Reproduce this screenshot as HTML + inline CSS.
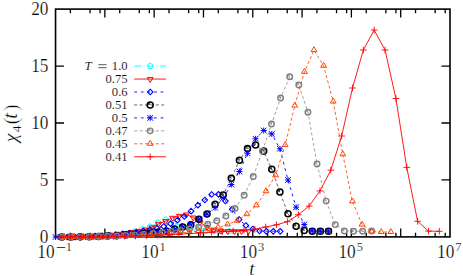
<!DOCTYPE html>
<html lang="en">
<head>
<meta charset="utf-8">
<title>chi4(t)</title>
<style>
html,body{margin:0;padding:0;background:#ffffff;}
body{width:463px;height:276px;overflow:hidden;font-family:"Liberation Serif",serif;}
svg{display:block;}
</style>
</head>
<body>
<svg width="463" height="276" viewBox="0 0 463 276">
<rect x="0" y="0" width="463" height="276" fill="#ffffff"/>
<g stroke="#000" stroke-width="1.3" fill="none" stroke-linecap="butt">
<rect x="55.55" y="9.1" width="394.45" height="227.8" stroke-width="1.6"/>
<path d="M70.39 236.9V232.7 M70.39 9.1V13.3 M90.01 236.9V232.7 M90.01 9.1V13.3 M100.08 236.9V232.7 M100.08 9.1V13.3 M104.86 236.9V228.4 M104.86 9.1V17.6 M119.7 236.9V232.7 M119.7 9.1V13.3 M139.32 236.9V232.7 M139.32 9.1V13.3 M149.38 236.9V232.7 M149.38 9.1V13.3 M154.16 236.9V228.4 M154.16 9.1V17.6 M169.01 236.9V232.7 M169.01 9.1V13.3 M188.63 236.9V232.7 M188.63 9.1V13.3 M198.69 236.9V232.7 M198.69 9.1V13.3 M203.47 236.9V228.4 M203.47 9.1V17.6 M218.31 236.9V232.7 M218.31 9.1V13.3 M237.93 236.9V232.7 M237.93 9.1V13.3 M248 236.9V232.7 M248 9.1V13.3 M252.77 236.9V228.4 M252.77 9.1V17.6 M267.62 236.9V232.7 M267.62 9.1V13.3 M287.24 236.9V232.7 M287.24 9.1V13.3 M297.3 236.9V232.7 M297.3 9.1V13.3 M302.08 236.9V228.4 M302.08 9.1V17.6 M316.92 236.9V232.7 M316.92 9.1V13.3 M336.54 236.9V232.7 M336.54 9.1V13.3 M346.61 236.9V232.7 M346.61 9.1V13.3 M351.39 236.9V228.4 M351.39 9.1V17.6 M366.23 236.9V232.7 M366.23 9.1V13.3 M385.85 236.9V232.7 M385.85 9.1V13.3 M395.92 236.9V232.7 M395.92 9.1V13.3 M400.69 236.9V228.4 M400.69 9.1V17.6 M415.54 236.9V232.7 M415.54 9.1V13.3 M435.16 236.9V232.7 M435.16 9.1V13.3 M445.22 236.9V232.7 M445.22 9.1V13.3 M55.55 179.95H64.05 M450 179.95H441.5 M55.55 123H64.05 M450 123H441.5 M55.55 66.05H64.05 M450 66.05H441.5"/>
</g>
<g font-family="'Liberation Serif', serif" fill="#000" stroke="#fff" stroke-width="0.22">
<text transform="translate(48.5 243) scale(0.96 1)" font-size="18" text-anchor="end">0</text>
<text transform="translate(48.5 186.05) scale(0.96 1)" font-size="18" text-anchor="end">5</text>
<text transform="translate(48.5 129.1) scale(0.96 1)" font-size="18" text-anchor="end">10</text>
<text transform="translate(48.5 72.15) scale(0.96 1)" font-size="18" text-anchor="end">15</text>
<text transform="translate(48.5 15.2) scale(0.96 1)" font-size="18" text-anchor="end">20</text>
<text transform="translate(37.3 258.3) scale(0.96 1)" font-size="18" text-anchor="start">10</text>
<path d="M56.8 247.5H65.2" stroke="#000" stroke-width="0.75" fill="none"/>
<text transform="translate(65.8 251.4) scale(0.96 1)" font-size="13" text-anchor="start">1</text>
<text transform="translate(141.26 258.3) scale(0.96 1)" font-size="18" text-anchor="start">10</text>
<text transform="translate(159.46 251.4) scale(0.96 1)" font-size="13" text-anchor="start">1</text>
<text transform="translate(239.87 258.3) scale(0.96 1)" font-size="18" text-anchor="start">10</text>
<text transform="translate(258.07 251.4) scale(0.96 1)" font-size="13" text-anchor="start">3</text>
<text transform="translate(338.49 258.3) scale(0.96 1)" font-size="18" text-anchor="start">10</text>
<text transform="translate(356.69 251.4) scale(0.96 1)" font-size="13" text-anchor="start">5</text>
<text transform="translate(437.1 258.3) scale(0.96 1)" font-size="18" text-anchor="start">10</text>
<text transform="translate(455.3 251.4) scale(0.96 1)" font-size="13" text-anchor="start">7</text>
<text x="249.2" y="275.4" font-size="19" font-style="italic">t</text>
<g transform="translate(17.2 142.2) rotate(-90)"><text x="0" y="0" font-size="19.5" font-style="italic">χ</text><text x="10.0" y="3.6" font-size="13.5">4</text><text x="17.8" y="1.15" font-size="22" stroke-width="0.55">(</text><text x="23.4" y="0" font-size="20.5" font-style="italic">t</text><text x="30.8" y="1.15" font-size="22" stroke-width="0.55">)</text></g>
<text x="127.6" y="70.4" font-size="12.6" text-anchor="end" stroke-width="0.14">1.0</text>
<text x="127.6" y="83.35" font-size="12.6" text-anchor="end" stroke-width="0.14">0.75</text>
<text x="127.6" y="96.3" font-size="12.6" text-anchor="end" stroke-width="0.14">0.6</text>
<text x="127.6" y="109.25" font-size="12.6" text-anchor="end" stroke-width="0.14">0.51</text>
<text x="127.6" y="122.2" font-size="12.6" text-anchor="end" stroke-width="0.14">0.5</text>
<text x="127.6" y="135.15" font-size="12.6" text-anchor="end" stroke-width="0.14">0.47</text>
<text x="127.6" y="148.1" font-size="12.6" text-anchor="end" stroke-width="0.14">0.45</text>
<text x="127.6" y="161.05" font-size="12.6" text-anchor="end" stroke-width="0.14">0.41</text>
<text x="84.6" y="70.4" font-size="13" font-style="italic" stroke-width="0.14">T</text>
<path d="M98.4 64.7H106.6 M98.4 67.7H106.6" stroke="#000" stroke-width="0.65" fill="none"/>
</g>
<g>
<path d="M134.2 66.1H166" fill="none" stroke="#00ffff" stroke-width="0.9" stroke-dasharray="7 2.4 1 2.4"/>
<polygon points="150.2,63.1 153.05,65.17 151.96,68.53 148.44,68.53 147.35,65.17" fill="none" stroke="#00ffff" stroke-width="1.0"/>
<polyline points="63.2,236.97 71.1,236.88 79,236.72 86.9,236.49 94.8,236.19 102.7,235.83 110.6,235.4 118.5,234.9 126.4,234 134.3,231.8 142.2,229.2 150.1,226.6 158,222.6 165.9,219.6 173.8,222.8 181.7,226 189.6,228.8 197.5,230.4 205.4,231.1 213.3,231.3 221.2,231.3 229.1,231.3" fill="none" stroke="#00ffff" stroke-width="0.9" stroke-linejoin="round" stroke-dasharray="7 2.4 1 2.4"/>
<polygon points="63.2,233.97 66.05,236.05 64.96,239.4 61.44,239.4 60.35,236.05" fill="none" stroke="#00ffff" stroke-width="1.0"/>
<polygon points="71.1,233.88 73.95,235.95 72.86,239.3 69.34,239.3 68.25,235.95" fill="none" stroke="#00ffff" stroke-width="1.0"/>
<polygon points="79,233.72 81.85,235.79 80.76,239.14 77.24,239.14 76.15,235.79" fill="none" stroke="#00ffff" stroke-width="1.0"/>
<polygon points="86.9,233.49 89.75,235.56 88.66,238.91 85.14,238.91 84.05,235.56" fill="none" stroke="#00ffff" stroke-width="1.0"/>
<polygon points="94.8,233.19 97.65,235.26 96.56,238.62 93.04,238.62 91.95,235.26" fill="none" stroke="#00ffff" stroke-width="1.0"/>
<polygon points="102.7,232.83 105.55,234.9 104.46,238.25 100.94,238.25 99.85,234.9" fill="none" stroke="#00ffff" stroke-width="1.0"/>
<polygon points="110.6,232.4 113.45,234.47 112.36,237.82 108.84,237.82 107.75,234.47" fill="none" stroke="#00ffff" stroke-width="1.0"/>
<polygon points="118.5,231.9 121.35,233.97 120.26,237.33 116.74,237.33 115.65,233.97" fill="none" stroke="#00ffff" stroke-width="1.0"/>
<polygon points="126.4,231 129.25,233.07 128.16,236.43 124.64,236.43 123.55,233.07" fill="none" stroke="#00ffff" stroke-width="1.0"/>
<polygon points="134.3,228.8 137.15,230.87 136.06,234.23 132.54,234.23 131.45,230.87" fill="none" stroke="#00ffff" stroke-width="1.0"/>
<polygon points="142.2,226.2 145.05,228.27 143.96,231.63 140.44,231.63 139.35,228.27" fill="none" stroke="#00ffff" stroke-width="1.0"/>
<polygon points="150.1,223.6 152.95,225.67 151.86,229.03 148.34,229.03 147.25,225.67" fill="none" stroke="#00ffff" stroke-width="1.0"/>
<polygon points="158,219.6 160.85,221.67 159.76,225.03 156.24,225.03 155.15,221.67" fill="none" stroke="#00ffff" stroke-width="1.0"/>
<polygon points="165.9,216.6 168.75,218.67 167.66,222.03 164.14,222.03 163.05,218.67" fill="none" stroke="#00ffff" stroke-width="1.0"/>
<polygon points="173.8,219.8 176.65,221.87 175.56,225.23 172.04,225.23 170.95,221.87" fill="none" stroke="#00ffff" stroke-width="1.0"/>
<polygon points="181.7,223 184.55,225.07 183.46,228.43 179.94,228.43 178.85,225.07" fill="none" stroke="#00ffff" stroke-width="1.0"/>
<polygon points="189.6,225.8 192.45,227.87 191.36,231.23 187.84,231.23 186.75,227.87" fill="none" stroke="#00ffff" stroke-width="1.0"/>
<polygon points="197.5,227.4 200.35,229.47 199.26,232.83 195.74,232.83 194.65,229.47" fill="none" stroke="#00ffff" stroke-width="1.0"/>
<polygon points="205.4,228.1 208.25,230.17 207.16,233.53 203.64,233.53 202.55,230.17" fill="none" stroke="#00ffff" stroke-width="1.0"/>
<polygon points="213.3,228.3 216.15,230.37 215.06,233.73 211.54,233.73 210.45,230.37" fill="none" stroke="#00ffff" stroke-width="1.0"/>
<polygon points="221.2,228.3 224.05,230.37 222.96,233.73 219.44,233.73 218.35,230.37" fill="none" stroke="#00ffff" stroke-width="1.0"/>
<polygon points="229.1,228.3 231.95,230.37 230.86,233.73 227.34,233.73 226.25,230.37" fill="none" stroke="#00ffff" stroke-width="1.0"/>
</g>
<g>
<path d="M134.2 79.05H166" fill="none" stroke="#ff0000" stroke-width="0.9"/>
<polygon points="147.3,77.55 153.1,77.55 150.2,82.45" fill="none" stroke="#ff0000" stroke-width="1.0"/>
<polyline points="62.1,236.98 69,236.91 75.9,236.76 82.8,236.53 89.7,236.21 96.6,235.78 103.5,235.25 110.4,234.61 117.3,233.85 124.2,232.98 131.1,231.98 138,230.85 144.9,229.6 151.8,227.3 158.7,223.8 165.6,221.2 172.5,217.8 179.4,215.8 186.3,214.5 193.2,217.5 200.1,222.5 207,227 213.9,229.7 220.8,230.8 227.7,231.1 234.6,231.2 241.5,231.2 248.4,231.2" fill="none" stroke="#ff0000" stroke-width="0.9" stroke-linejoin="round"/>
<polygon points="59.2,235.48 65,235.48 62.1,240.38" fill="none" stroke="#ff0000" stroke-width="1.0"/>
<polygon points="66.1,235.41 71.9,235.41 69,240.31" fill="none" stroke="#ff0000" stroke-width="1.0"/>
<polygon points="73,235.26 78.8,235.26 75.9,240.16" fill="none" stroke="#ff0000" stroke-width="1.0"/>
<polygon points="79.9,235.03 85.7,235.03 82.8,239.93" fill="none" stroke="#ff0000" stroke-width="1.0"/>
<polygon points="86.8,234.71 92.6,234.71 89.7,239.61" fill="none" stroke="#ff0000" stroke-width="1.0"/>
<polygon points="93.7,234.28 99.5,234.28 96.6,239.18" fill="none" stroke="#ff0000" stroke-width="1.0"/>
<polygon points="100.6,233.75 106.4,233.75 103.5,238.65" fill="none" stroke="#ff0000" stroke-width="1.0"/>
<polygon points="107.5,233.11 113.3,233.11 110.4,238.01" fill="none" stroke="#ff0000" stroke-width="1.0"/>
<polygon points="114.4,232.35 120.2,232.35 117.3,237.25" fill="none" stroke="#ff0000" stroke-width="1.0"/>
<polygon points="121.3,231.48 127.1,231.48 124.2,236.38" fill="none" stroke="#ff0000" stroke-width="1.0"/>
<polygon points="128.2,230.48 134,230.48 131.1,235.38" fill="none" stroke="#ff0000" stroke-width="1.0"/>
<polygon points="135.1,229.35 140.9,229.35 138,234.25" fill="none" stroke="#ff0000" stroke-width="1.0"/>
<polygon points="142,228.1 147.8,228.1 144.9,233" fill="none" stroke="#ff0000" stroke-width="1.0"/>
<polygon points="148.9,225.8 154.7,225.8 151.8,230.7" fill="none" stroke="#ff0000" stroke-width="1.0"/>
<polygon points="155.8,222.3 161.6,222.3 158.7,227.2" fill="none" stroke="#ff0000" stroke-width="1.0"/>
<polygon points="162.7,219.7 168.5,219.7 165.6,224.6" fill="none" stroke="#ff0000" stroke-width="1.0"/>
<polygon points="169.6,216.3 175.4,216.3 172.5,221.2" fill="none" stroke="#ff0000" stroke-width="1.0"/>
<polygon points="176.5,214.3 182.3,214.3 179.4,219.2" fill="none" stroke="#ff0000" stroke-width="1.0"/>
<polygon points="183.4,213 189.2,213 186.3,217.9" fill="none" stroke="#ff0000" stroke-width="1.0"/>
<polygon points="190.3,216 196.1,216 193.2,220.9" fill="none" stroke="#ff0000" stroke-width="1.0"/>
<polygon points="197.2,221 203,221 200.1,225.9" fill="none" stroke="#ff0000" stroke-width="1.0"/>
<polygon points="204.1,225.5 209.9,225.5 207,230.4" fill="none" stroke="#ff0000" stroke-width="1.0"/>
<polygon points="211,228.2 216.8,228.2 213.9,233.1" fill="none" stroke="#ff0000" stroke-width="1.0"/>
<polygon points="217.9,229.3 223.7,229.3 220.8,234.2" fill="none" stroke="#ff0000" stroke-width="1.0"/>
<polygon points="224.8,229.6 230.6,229.6 227.7,234.5" fill="none" stroke="#ff0000" stroke-width="1.0"/>
<polygon points="231.7,229.7 237.5,229.7 234.6,234.6" fill="none" stroke="#ff0000" stroke-width="1.0"/>
<polygon points="238.6,229.7 244.4,229.7 241.5,234.6" fill="none" stroke="#ff0000" stroke-width="1.0"/>
<polygon points="245.5,229.7 251.3,229.7 248.4,234.6" fill="none" stroke="#ff0000" stroke-width="1.0"/>
</g>
<g>
<path d="M134.2 92H166" fill="none" stroke="#0000ff" stroke-width="0.9" stroke-dasharray="2.8 3.8"/>
<polygon points="150.2,89.2 153,92 150.2,94.8 147.4,92" fill="none" stroke="#0000ff" stroke-width="1.1"/>
<polyline points="61,237 67.85,236.96 74.7,236.87 81.55,236.72 88.4,236.5 95.25,236.19 102.1,235.79 108.95,235.28 115.8,234.67 122.65,233.95 129.5,233.11 136.35,232.13 143.2,231.03 150.05,229.79 156.9,228.4 163.7,226.5 170.6,223.7 177.4,220.2 184.3,216.5 191.1,211.2 197.9,205.2 204.8,200 211.6,194.5 218.5,194.3 225.4,201 232.2,209.3 239.1,219.5 245.9,225.5 252.8,229 259.6,231 266.4,231.3 273.3,231.3 280.2,231.3" fill="none" stroke="#0000ff" stroke-width="0.9" stroke-linejoin="round" stroke-dasharray="2.8 3.8"/>
<polygon points="61,234.2 63.8,237 61,239.8 58.2,237" fill="none" stroke="#0000ff" stroke-width="1.1"/>
<polygon points="67.85,234.16 70.65,236.96 67.85,239.76 65.05,236.96" fill="none" stroke="#0000ff" stroke-width="1.1"/>
<polygon points="74.7,234.07 77.5,236.87 74.7,239.67 71.9,236.87" fill="none" stroke="#0000ff" stroke-width="1.1"/>
<polygon points="81.55,233.92 84.35,236.72 81.55,239.52 78.75,236.72" fill="none" stroke="#0000ff" stroke-width="1.1"/>
<polygon points="88.4,233.7 91.2,236.5 88.4,239.3 85.6,236.5" fill="none" stroke="#0000ff" stroke-width="1.1"/>
<polygon points="95.25,233.39 98.05,236.19 95.25,238.99 92.45,236.19" fill="none" stroke="#0000ff" stroke-width="1.1"/>
<polygon points="102.1,232.99 104.9,235.79 102.1,238.59 99.3,235.79" fill="none" stroke="#0000ff" stroke-width="1.1"/>
<polygon points="108.95,232.48 111.75,235.28 108.95,238.08 106.15,235.28" fill="none" stroke="#0000ff" stroke-width="1.1"/>
<polygon points="115.8,231.87 118.6,234.67 115.8,237.47 113,234.67" fill="none" stroke="#0000ff" stroke-width="1.1"/>
<polygon points="122.65,231.15 125.45,233.95 122.65,236.75 119.85,233.95" fill="none" stroke="#0000ff" stroke-width="1.1"/>
<polygon points="129.5,230.31 132.3,233.11 129.5,235.91 126.7,233.11" fill="none" stroke="#0000ff" stroke-width="1.1"/>
<polygon points="136.35,229.33 139.15,232.13 136.35,234.93 133.55,232.13" fill="none" stroke="#0000ff" stroke-width="1.1"/>
<polygon points="143.2,228.23 146,231.03 143.2,233.83 140.4,231.03" fill="none" stroke="#0000ff" stroke-width="1.1"/>
<polygon points="150.05,226.99 152.85,229.79 150.05,232.59 147.25,229.79" fill="none" stroke="#0000ff" stroke-width="1.1"/>
<polygon points="156.9,225.6 159.7,228.4 156.9,231.2 154.1,228.4" fill="none" stroke="#0000ff" stroke-width="1.1"/>
<polygon points="163.7,223.7 166.5,226.5 163.7,229.3 160.9,226.5" fill="none" stroke="#0000ff" stroke-width="1.1"/>
<polygon points="170.6,220.9 173.4,223.7 170.6,226.5 167.8,223.7" fill="none" stroke="#0000ff" stroke-width="1.1"/>
<polygon points="177.4,217.4 180.2,220.2 177.4,223 174.6,220.2" fill="none" stroke="#0000ff" stroke-width="1.1"/>
<polygon points="184.3,213.7 187.1,216.5 184.3,219.3 181.5,216.5" fill="none" stroke="#0000ff" stroke-width="1.1"/>
<polygon points="191.1,208.4 193.9,211.2 191.1,214 188.3,211.2" fill="none" stroke="#0000ff" stroke-width="1.1"/>
<polygon points="197.9,202.4 200.7,205.2 197.9,208 195.1,205.2" fill="none" stroke="#0000ff" stroke-width="1.1"/>
<polygon points="204.8,197.2 207.6,200 204.8,202.8 202,200" fill="none" stroke="#0000ff" stroke-width="1.1"/>
<polygon points="211.6,191.7 214.4,194.5 211.6,197.3 208.8,194.5" fill="none" stroke="#0000ff" stroke-width="1.1"/>
<polygon points="218.5,191.5 221.3,194.3 218.5,197.1 215.7,194.3" fill="none" stroke="#0000ff" stroke-width="1.1"/>
<polygon points="225.4,198.2 228.2,201 225.4,203.8 222.6,201" fill="none" stroke="#0000ff" stroke-width="1.1"/>
<polygon points="232.2,206.5 235,209.3 232.2,212.1 229.4,209.3" fill="none" stroke="#0000ff" stroke-width="1.1"/>
<polygon points="239.1,216.7 241.9,219.5 239.1,222.3 236.3,219.5" fill="none" stroke="#0000ff" stroke-width="1.1"/>
<polygon points="245.9,222.7 248.7,225.5 245.9,228.3 243.1,225.5" fill="none" stroke="#0000ff" stroke-width="1.1"/>
<polygon points="252.8,226.2 255.6,229 252.8,231.8 250,229" fill="none" stroke="#0000ff" stroke-width="1.1"/>
<polygon points="259.6,228.2 262.4,231 259.6,233.8 256.8,231" fill="none" stroke="#0000ff" stroke-width="1.1"/>
<polygon points="266.4,228.5 269.2,231.3 266.4,234.1 263.6,231.3" fill="none" stroke="#0000ff" stroke-width="1.1"/>
<polygon points="273.3,228.5 276.1,231.3 273.3,234.1 270.5,231.3" fill="none" stroke="#0000ff" stroke-width="1.1"/>
<polygon points="280.2,228.5 283,231.3 280.2,234.1 277.4,231.3" fill="none" stroke="#0000ff" stroke-width="1.1"/>
</g>
<g>
<path d="M134.2 104.95H166" fill="none" stroke="#333333" stroke-width="0.75" stroke-dasharray="3 2.4"/>
<circle cx="150.2" cy="104.95" r="3.0" fill="none" stroke="#000000" stroke-width="1.55"/><path d="M150.35 105.1V102.62A2.33 2.33 0 0 0 147.88 105.1Z" fill="#000000" fill-opacity="0.65" stroke="none"/>
<polyline points="61.96,237 71.07,236.96 80.18,236.86 89.29,236.7 98.4,236.45 107.51,236.1 116.62,235.65 125.73,235.09 134.84,234.4 143.95,233.58 150.3,232.93 158.4,232 166.5,231 174.6,229 182.7,227.1 190.8,224.7 198.9,219.2 207,213.9 215.1,204.2 223.2,195 231.3,178.3 239.4,160.2 247.5,148.6 255.6,145 263.7,151.1 271.8,169.3 279.9,192 288,213.7 296.1,226.3 304.2,230.4 312.3,231.3 320.4,231.3 328.5,231.3" fill="none" stroke="#333333" stroke-width="0.75" stroke-linejoin="round" stroke-dasharray="3 2.4"/>
<circle cx="61.96" cy="237" r="3.0" fill="none" stroke="#000000" stroke-width="1.55"/><path d="M62.11 237.15V234.67A2.33 2.33 0 0 0 59.63 237.15Z" fill="#000000" fill-opacity="0.65" stroke="none"/>
<circle cx="71.07" cy="236.96" r="3.0" fill="none" stroke="#000000" stroke-width="1.55"/><path d="M71.22 237.11V234.63A2.33 2.33 0 0 0 68.74 237.11Z" fill="#000000" fill-opacity="0.65" stroke="none"/>
<circle cx="80.18" cy="236.86" r="3.0" fill="none" stroke="#000000" stroke-width="1.55"/><path d="M80.33 237.01V234.54A2.33 2.33 0 0 0 77.86 237.01Z" fill="#000000" fill-opacity="0.65" stroke="none"/>
<circle cx="89.29" cy="236.7" r="3.0" fill="none" stroke="#000000" stroke-width="1.55"/><path d="M89.44 236.85V234.37A2.33 2.33 0 0 0 86.97 236.85Z" fill="#000000" fill-opacity="0.65" stroke="none"/>
<circle cx="98.4" cy="236.45" r="3.0" fill="none" stroke="#000000" stroke-width="1.55"/><path d="M98.55 236.6V234.12A2.33 2.33 0 0 0 96.08 236.6Z" fill="#000000" fill-opacity="0.65" stroke="none"/>
<circle cx="107.51" cy="236.1" r="3.0" fill="none" stroke="#000000" stroke-width="1.55"/><path d="M107.66 236.25V233.78A2.33 2.33 0 0 0 105.18 236.25Z" fill="#000000" fill-opacity="0.65" stroke="none"/>
<circle cx="116.62" cy="235.65" r="3.0" fill="none" stroke="#000000" stroke-width="1.55"/><path d="M116.77 235.8V233.33A2.33 2.33 0 0 0 114.3 235.8Z" fill="#000000" fill-opacity="0.65" stroke="none"/>
<circle cx="125.73" cy="235.09" r="3.0" fill="none" stroke="#000000" stroke-width="1.55"/><path d="M125.88 235.24V232.76A2.33 2.33 0 0 0 123.41 235.24Z" fill="#000000" fill-opacity="0.65" stroke="none"/>
<circle cx="134.84" cy="234.4" r="3.0" fill="none" stroke="#000000" stroke-width="1.55"/><path d="M134.99 234.55V232.07A2.33 2.33 0 0 0 132.52 234.55Z" fill="#000000" fill-opacity="0.65" stroke="none"/>
<circle cx="143.95" cy="233.58" r="3.0" fill="none" stroke="#000000" stroke-width="1.55"/><path d="M144.1 233.73V231.26A2.33 2.33 0 0 0 141.62 233.73Z" fill="#000000" fill-opacity="0.65" stroke="none"/>
<circle cx="150.3" cy="232.93" r="3.0" fill="none" stroke="#000000" stroke-width="1.55"/><path d="M150.45 233.08V230.61A2.33 2.33 0 0 0 147.98 233.08Z" fill="#000000" fill-opacity="0.65" stroke="none"/>
<circle cx="158.4" cy="232" r="3.0" fill="none" stroke="#000000" stroke-width="1.55"/><path d="M158.55 232.15V229.68A2.33 2.33 0 0 0 156.08 232.15Z" fill="#000000" fill-opacity="0.65" stroke="none"/>
<circle cx="166.5" cy="231" r="3.0" fill="none" stroke="#000000" stroke-width="1.55"/><path d="M166.65 231.15V228.68A2.33 2.33 0 0 0 164.18 231.15Z" fill="#000000" fill-opacity="0.65" stroke="none"/>
<circle cx="174.6" cy="229" r="3.0" fill="none" stroke="#000000" stroke-width="1.55"/><path d="M174.75 229.15V226.68A2.33 2.33 0 0 0 172.28 229.15Z" fill="#000000" fill-opacity="0.65" stroke="none"/>
<circle cx="182.7" cy="227.1" r="3.0" fill="none" stroke="#000000" stroke-width="1.55"/><path d="M182.85 227.25V224.78A2.33 2.33 0 0 0 180.38 227.25Z" fill="#000000" fill-opacity="0.65" stroke="none"/>
<circle cx="190.8" cy="224.7" r="3.0" fill="none" stroke="#000000" stroke-width="1.55"/><path d="M190.95 224.85V222.38A2.33 2.33 0 0 0 188.48 224.85Z" fill="#000000" fill-opacity="0.65" stroke="none"/>
<circle cx="198.9" cy="219.2" r="3.0" fill="none" stroke="#000000" stroke-width="1.55"/><path d="M199.05 219.35V216.88A2.33 2.33 0 0 0 196.58 219.35Z" fill="#000000" fill-opacity="0.65" stroke="none"/>
<circle cx="207" cy="213.9" r="3.0" fill="none" stroke="#000000" stroke-width="1.55"/><path d="M207.15 214.05V211.58A2.33 2.33 0 0 0 204.68 214.05Z" fill="#000000" fill-opacity="0.65" stroke="none"/>
<circle cx="215.1" cy="204.2" r="3.0" fill="none" stroke="#000000" stroke-width="1.55"/><path d="M215.25 204.35V201.88A2.33 2.33 0 0 0 212.78 204.35Z" fill="#000000" fill-opacity="0.65" stroke="none"/>
<circle cx="223.2" cy="195" r="3.0" fill="none" stroke="#000000" stroke-width="1.55"/><path d="M223.35 195.15V192.68A2.33 2.33 0 0 0 220.88 195.15Z" fill="#000000" fill-opacity="0.65" stroke="none"/>
<circle cx="231.3" cy="178.3" r="3.0" fill="none" stroke="#000000" stroke-width="1.55"/><path d="M231.45 178.45V175.98A2.33 2.33 0 0 0 228.98 178.45Z" fill="#000000" fill-opacity="0.65" stroke="none"/>
<circle cx="239.4" cy="160.2" r="3.0" fill="none" stroke="#000000" stroke-width="1.55"/><path d="M239.55 160.35V157.88A2.33 2.33 0 0 0 237.08 160.35Z" fill="#000000" fill-opacity="0.65" stroke="none"/>
<circle cx="247.5" cy="148.6" r="3.0" fill="none" stroke="#000000" stroke-width="1.55"/><path d="M247.65 148.75V146.28A2.33 2.33 0 0 0 245.18 148.75Z" fill="#000000" fill-opacity="0.65" stroke="none"/>
<circle cx="255.6" cy="145" r="3.0" fill="none" stroke="#000000" stroke-width="1.55"/><path d="M255.75 145.15V142.68A2.33 2.33 0 0 0 253.28 145.15Z" fill="#000000" fill-opacity="0.65" stroke="none"/>
<circle cx="263.7" cy="151.1" r="3.0" fill="none" stroke="#000000" stroke-width="1.55"/><path d="M263.85 151.25V148.78A2.33 2.33 0 0 0 261.38 151.25Z" fill="#000000" fill-opacity="0.65" stroke="none"/>
<circle cx="271.8" cy="169.3" r="3.0" fill="none" stroke="#000000" stroke-width="1.55"/><path d="M271.95 169.45V166.98A2.33 2.33 0 0 0 269.48 169.45Z" fill="#000000" fill-opacity="0.65" stroke="none"/>
<circle cx="279.9" cy="192" r="3.0" fill="none" stroke="#000000" stroke-width="1.55"/><path d="M280.05 192.15V189.68A2.33 2.33 0 0 0 277.57 192.15Z" fill="#000000" fill-opacity="0.65" stroke="none"/>
<circle cx="288" cy="213.7" r="3.0" fill="none" stroke="#000000" stroke-width="1.55"/><path d="M288.15 213.85V211.38A2.33 2.33 0 0 0 285.68 213.85Z" fill="#000000" fill-opacity="0.65" stroke="none"/>
<circle cx="296.1" cy="226.3" r="3.0" fill="none" stroke="#000000" stroke-width="1.55"/><path d="M296.25 226.45V223.98A2.33 2.33 0 0 0 293.78 226.45Z" fill="#000000" fill-opacity="0.65" stroke="none"/>
<circle cx="304.2" cy="230.4" r="3.0" fill="none" stroke="#000000" stroke-width="1.55"/><path d="M304.35 230.55V228.08A2.33 2.33 0 0 0 301.88 230.55Z" fill="#000000" fill-opacity="0.65" stroke="none"/>
<circle cx="312.3" cy="231.3" r="3.0" fill="none" stroke="#000000" stroke-width="1.55"/><path d="M312.45 231.45V228.98A2.33 2.33 0 0 0 309.98 231.45Z" fill="#000000" fill-opacity="0.65" stroke="none"/>
<circle cx="320.4" cy="231.3" r="3.0" fill="none" stroke="#000000" stroke-width="1.55"/><path d="M320.55 231.45V228.98A2.33 2.33 0 0 0 318.07 231.45Z" fill="#000000" fill-opacity="0.65" stroke="none"/>
<circle cx="328.5" cy="231.3" r="3.0" fill="none" stroke="#000000" stroke-width="1.55"/><path d="M328.65 231.45V228.98A2.33 2.33 0 0 0 326.18 231.45Z" fill="#000000" fill-opacity="0.65" stroke="none"/>
</g>
<g>
<path d="M134.2 117.9H166" fill="none" stroke="#0000ff" stroke-width="0.9" stroke-dasharray="2.8 3.8"/>
<path d="M147.2 117.9H153.2 M150.2 114.9V120.9 M147.38 115.08L153.02 120.72 M147.38 120.72L153.02 115.08" fill="none" stroke="#0000ff" stroke-width="1.0"/>
<polyline points="55.6,237 61.2,237 69.3,236.99 77.4,236.94 85.5,236.83 93.6,236.67 101.7,236.43 109.8,236.11 117.9,235.7 126,235.19 134.1,234.59 142.2,233.87 150.3,233.05 158.4,232.1 166.5,231.1 174.6,229.2 182.7,227.3 190.8,224.8 198.9,219.4 207,214.2 215.1,207.7 223.2,198 231.3,184.5 239.4,171.5 247.5,153.3 255.6,138.8 263.7,130.5 271.8,134 279.9,148.8 288,180 296.1,207.2 304.2,224.6 312.3,231 320.4,231.3 328.5,231.3" fill="none" stroke="#0000ff" stroke-width="0.9" stroke-linejoin="round" stroke-dasharray="2.8 3.8"/>
<path d="M52.6 237H58.6 M55.6 234V240 M52.78 234.18L58.42 239.82 M52.78 239.82L58.42 234.18" fill="none" stroke="#0000ff" stroke-width="1.0"/>
<path d="M58.2 237H64.2 M61.2 234V240 M58.38 234.18L64.02 239.82 M58.38 239.82L64.02 234.18" fill="none" stroke="#0000ff" stroke-width="1.0"/>
<path d="M66.3 236.99H72.3 M69.3 233.99V239.99 M66.48 234.17L72.12 239.81 M66.48 239.81L72.12 234.17" fill="none" stroke="#0000ff" stroke-width="1.0"/>
<path d="M74.4 236.94H80.4 M77.4 233.94V239.94 M74.58 234.12L80.22 239.76 M74.58 239.76L80.22 234.12" fill="none" stroke="#0000ff" stroke-width="1.0"/>
<path d="M82.5 236.83H88.5 M85.5 233.83V239.83 M82.68 234.01L88.32 239.65 M82.68 239.65L88.32 234.01" fill="none" stroke="#0000ff" stroke-width="1.0"/>
<path d="M90.6 236.67H96.6 M93.6 233.67V239.67 M90.78 233.85L96.42 239.49 M90.78 239.49L96.42 233.85" fill="none" stroke="#0000ff" stroke-width="1.0"/>
<path d="M98.7 236.43H104.7 M101.7 233.43V239.43 M98.88 233.61L104.52 239.25 M98.88 239.25L104.52 233.61" fill="none" stroke="#0000ff" stroke-width="1.0"/>
<path d="M106.8 236.11H112.8 M109.8 233.11V239.11 M106.98 233.29L112.62 238.93 M106.98 238.93L112.62 233.29" fill="none" stroke="#0000ff" stroke-width="1.0"/>
<path d="M114.9 235.7H120.9 M117.9 232.7V238.7 M115.08 232.88L120.72 238.52 M115.08 238.52L120.72 232.88" fill="none" stroke="#0000ff" stroke-width="1.0"/>
<path d="M123 235.19H129 M126 232.19V238.19 M123.18 232.37L128.82 238.01 M123.18 238.01L128.82 232.37" fill="none" stroke="#0000ff" stroke-width="1.0"/>
<path d="M131.1 234.59H137.1 M134.1 231.59V237.59 M131.28 231.77L136.92 237.41 M131.28 237.41L136.92 231.77" fill="none" stroke="#0000ff" stroke-width="1.0"/>
<path d="M139.2 233.87H145.2 M142.2 230.87V236.87 M139.38 231.05L145.02 236.69 M139.38 236.69L145.02 231.05" fill="none" stroke="#0000ff" stroke-width="1.0"/>
<path d="M147.3 233.05H153.3 M150.3 230.05V236.05 M147.48 230.23L153.12 235.87 M147.48 235.87L153.12 230.23" fill="none" stroke="#0000ff" stroke-width="1.0"/>
<path d="M155.4 232.1H161.4 M158.4 229.1V235.1 M155.58 229.28L161.22 234.92 M155.58 234.92L161.22 229.28" fill="none" stroke="#0000ff" stroke-width="1.0"/>
<path d="M163.5 231.1H169.5 M166.5 228.1V234.1 M163.68 228.28L169.32 233.92 M163.68 233.92L169.32 228.28" fill="none" stroke="#0000ff" stroke-width="1.0"/>
<path d="M171.6 229.2H177.6 M174.6 226.2V232.2 M171.78 226.38L177.42 232.02 M171.78 232.02L177.42 226.38" fill="none" stroke="#0000ff" stroke-width="1.0"/>
<path d="M179.7 227.3H185.7 M182.7 224.3V230.3 M179.88 224.48L185.52 230.12 M179.88 230.12L185.52 224.48" fill="none" stroke="#0000ff" stroke-width="1.0"/>
<path d="M187.8 224.8H193.8 M190.8 221.8V227.8 M187.98 221.98L193.62 227.62 M187.98 227.62L193.62 221.98" fill="none" stroke="#0000ff" stroke-width="1.0"/>
<path d="M195.9 219.4H201.9 M198.9 216.4V222.4 M196.08 216.58L201.72 222.22 M196.08 222.22L201.72 216.58" fill="none" stroke="#0000ff" stroke-width="1.0"/>
<path d="M204 214.2H210 M207 211.2V217.2 M204.18 211.38L209.82 217.02 M204.18 217.02L209.82 211.38" fill="none" stroke="#0000ff" stroke-width="1.0"/>
<path d="M212.1 207.7H218.1 M215.1 204.7V210.7 M212.28 204.88L217.92 210.52 M212.28 210.52L217.92 204.88" fill="none" stroke="#0000ff" stroke-width="1.0"/>
<path d="M220.2 198H226.2 M223.2 195V201 M220.38 195.18L226.02 200.82 M220.38 200.82L226.02 195.18" fill="none" stroke="#0000ff" stroke-width="1.0"/>
<path d="M228.3 184.5H234.3 M231.3 181.5V187.5 M228.48 181.68L234.12 187.32 M228.48 187.32L234.12 181.68" fill="none" stroke="#0000ff" stroke-width="1.0"/>
<path d="M236.4 171.5H242.4 M239.4 168.5V174.5 M236.58 168.68L242.22 174.32 M236.58 174.32L242.22 168.68" fill="none" stroke="#0000ff" stroke-width="1.0"/>
<path d="M244.5 153.3H250.5 M247.5 150.3V156.3 M244.68 150.48L250.32 156.12 M244.68 156.12L250.32 150.48" fill="none" stroke="#0000ff" stroke-width="1.0"/>
<path d="M252.6 138.8H258.6 M255.6 135.8V141.8 M252.78 135.98L258.42 141.62 M252.78 141.62L258.42 135.98" fill="none" stroke="#0000ff" stroke-width="1.0"/>
<path d="M260.7 130.5H266.7 M263.7 127.5V133.5 M260.88 127.68L266.52 133.32 M260.88 133.32L266.52 127.68" fill="none" stroke="#0000ff" stroke-width="1.0"/>
<path d="M268.8 134H274.8 M271.8 131V137 M268.98 131.18L274.62 136.82 M268.98 136.82L274.62 131.18" fill="none" stroke="#0000ff" stroke-width="1.0"/>
<path d="M276.9 148.8H282.9 M279.9 145.8V151.8 M277.08 145.98L282.72 151.62 M277.08 151.62L282.72 145.98" fill="none" stroke="#0000ff" stroke-width="1.0"/>
<path d="M285 180H291 M288 177V183 M285.18 177.18L290.82 182.82 M285.18 182.82L290.82 177.18" fill="none" stroke="#0000ff" stroke-width="1.0"/>
<path d="M293.1 207.2H299.1 M296.1 204.2V210.2 M293.28 204.38L298.92 210.02 M293.28 210.02L298.92 204.38" fill="none" stroke="#0000ff" stroke-width="1.0"/>
<path d="M301.2 224.6H307.2 M304.2 221.6V227.6 M301.38 221.78L307.02 227.42 M301.38 227.42L307.02 221.78" fill="none" stroke="#0000ff" stroke-width="1.0"/>
<path d="M309.3 231H315.3 M312.3 228V234 M309.48 228.18L315.12 233.82 M309.48 233.82L315.12 228.18" fill="none" stroke="#0000ff" stroke-width="1.0"/>
<path d="M317.4 231.3H323.4 M320.4 228.3V234.3 M317.58 228.48L323.22 234.12 M317.58 234.12L323.22 228.48" fill="none" stroke="#0000ff" stroke-width="1.0"/>
<path d="M325.5 231.3H331.5 M328.5 228.3V234.3 M325.68 228.48L331.32 234.12 M325.68 234.12L331.32 228.48" fill="none" stroke="#0000ff" stroke-width="1.0"/>
</g>
<g>
<path d="M134.2 130.85H166" fill="none" stroke="#909090" stroke-width="0.85" stroke-dasharray="3 2.4"/>
<circle cx="150.2" cy="130.85" r="2.75" fill="none" stroke="#808080" stroke-width="1.45"/><path d="M150.35 131V128.72A2.12 2.12 0 0 0 148.07 131Z" fill="#808080" fill-opacity="0.65" stroke="none"/>
<polyline points="61.96,237 71.07,236.97 80.18,236.89 89.29,236.75 98.4,236.55 107.51,236.27 116.62,235.9 125.73,235.43 134.84,234.87 143.95,234.2 153.06,233.42 162.17,232.52 171.28,231.5 180.39,230.5 189.5,229 198.61,227.2 207.72,224.2 216.83,220.8 225.94,216 235.05,208.5 244.16,195.2 253.27,176.5 262.38,151.1 271.49,124 280.6,98 289.71,76.7 298.82,85 307.93,112.2 317.04,164 326.15,201.1 335.26,224.6 344.37,231 353.48,231.3 362.59,231.3 371.7,231" fill="none" stroke="#909090" stroke-width="0.85" stroke-linejoin="round" stroke-dasharray="3 2.4"/>
<circle cx="61.96" cy="237" r="2.75" fill="none" stroke="#808080" stroke-width="1.45"/><path d="M62.11 237.15V234.87A2.12 2.12 0 0 0 59.83 237.15Z" fill="#808080" fill-opacity="0.65" stroke="none"/>
<circle cx="71.07" cy="236.97" r="2.75" fill="none" stroke="#808080" stroke-width="1.45"/><path d="M71.22 237.12V234.84A2.12 2.12 0 0 0 68.94 237.12Z" fill="#808080" fill-opacity="0.65" stroke="none"/>
<circle cx="80.18" cy="236.89" r="2.75" fill="none" stroke="#808080" stroke-width="1.45"/><path d="M80.33 237.04V234.76A2.12 2.12 0 0 0 78.05 237.04Z" fill="#808080" fill-opacity="0.65" stroke="none"/>
<circle cx="89.29" cy="236.75" r="2.75" fill="none" stroke="#808080" stroke-width="1.45"/><path d="M89.44 236.9V234.63A2.12 2.12 0 0 0 87.16 236.9Z" fill="#808080" fill-opacity="0.65" stroke="none"/>
<circle cx="98.4" cy="236.55" r="2.75" fill="none" stroke="#808080" stroke-width="1.45"/><path d="M98.55 236.7V234.42A2.12 2.12 0 0 0 96.27 236.7Z" fill="#808080" fill-opacity="0.65" stroke="none"/>
<circle cx="107.51" cy="236.27" r="2.75" fill="none" stroke="#808080" stroke-width="1.45"/><path d="M107.66 236.42V234.14A2.12 2.12 0 0 0 105.38 236.42Z" fill="#808080" fill-opacity="0.65" stroke="none"/>
<circle cx="116.62" cy="235.9" r="2.75" fill="none" stroke="#808080" stroke-width="1.45"/><path d="M116.77 236.05V233.77A2.12 2.12 0 0 0 114.49 236.05Z" fill="#808080" fill-opacity="0.65" stroke="none"/>
<circle cx="125.73" cy="235.43" r="2.75" fill="none" stroke="#808080" stroke-width="1.45"/><path d="M125.88 235.58V233.31A2.12 2.12 0 0 0 123.6 235.58Z" fill="#808080" fill-opacity="0.65" stroke="none"/>
<circle cx="134.84" cy="234.87" r="2.75" fill="none" stroke="#808080" stroke-width="1.45"/><path d="M134.99 235.02V232.75A2.12 2.12 0 0 0 132.71 235.02Z" fill="#808080" fill-opacity="0.65" stroke="none"/>
<circle cx="143.95" cy="234.2" r="2.75" fill="none" stroke="#808080" stroke-width="1.45"/><path d="M144.1 234.35V232.08A2.12 2.12 0 0 0 141.82 234.35Z" fill="#808080" fill-opacity="0.65" stroke="none"/>
<circle cx="153.06" cy="233.42" r="2.75" fill="none" stroke="#808080" stroke-width="1.45"/><path d="M153.21 233.57V231.3A2.12 2.12 0 0 0 150.94 233.57Z" fill="#808080" fill-opacity="0.65" stroke="none"/>
<circle cx="162.17" cy="232.52" r="2.75" fill="none" stroke="#808080" stroke-width="1.45"/><path d="M162.32 232.67V230.4A2.12 2.12 0 0 0 160.05 232.67Z" fill="#808080" fill-opacity="0.65" stroke="none"/>
<circle cx="171.28" cy="231.5" r="2.75" fill="none" stroke="#808080" stroke-width="1.45"/><path d="M171.43 231.65V229.38A2.12 2.12 0 0 0 169.16 231.65Z" fill="#808080" fill-opacity="0.65" stroke="none"/>
<circle cx="180.39" cy="230.5" r="2.75" fill="none" stroke="#808080" stroke-width="1.45"/><path d="M180.54 230.65V228.38A2.12 2.12 0 0 0 178.26 230.65Z" fill="#808080" fill-opacity="0.65" stroke="none"/>
<circle cx="189.5" cy="229" r="2.75" fill="none" stroke="#808080" stroke-width="1.45"/><path d="M189.65 229.15V226.88A2.12 2.12 0 0 0 187.38 229.15Z" fill="#808080" fill-opacity="0.65" stroke="none"/>
<circle cx="198.61" cy="227.2" r="2.75" fill="none" stroke="#808080" stroke-width="1.45"/><path d="M198.76 227.35V225.07A2.12 2.12 0 0 0 196.49 227.35Z" fill="#808080" fill-opacity="0.65" stroke="none"/>
<circle cx="207.72" cy="224.2" r="2.75" fill="none" stroke="#808080" stroke-width="1.45"/><path d="M207.87 224.35V222.07A2.12 2.12 0 0 0 205.59 224.35Z" fill="#808080" fill-opacity="0.65" stroke="none"/>
<circle cx="216.83" cy="220.8" r="2.75" fill="none" stroke="#808080" stroke-width="1.45"/><path d="M216.98 220.95V218.68A2.12 2.12 0 0 0 214.7 220.95Z" fill="#808080" fill-opacity="0.65" stroke="none"/>
<circle cx="225.94" cy="216" r="2.75" fill="none" stroke="#808080" stroke-width="1.45"/><path d="M226.09 216.15V213.88A2.12 2.12 0 0 0 223.81 216.15Z" fill="#808080" fill-opacity="0.65" stroke="none"/>
<circle cx="235.05" cy="208.5" r="2.75" fill="none" stroke="#808080" stroke-width="1.45"/><path d="M235.2 208.65V206.38A2.12 2.12 0 0 0 232.93 208.65Z" fill="#808080" fill-opacity="0.65" stroke="none"/>
<circle cx="244.16" cy="195.2" r="2.75" fill="none" stroke="#808080" stroke-width="1.45"/><path d="M244.31 195.35V193.07A2.12 2.12 0 0 0 242.03 195.35Z" fill="#808080" fill-opacity="0.65" stroke="none"/>
<circle cx="253.27" cy="176.5" r="2.75" fill="none" stroke="#808080" stroke-width="1.45"/><path d="M253.42 176.65V174.38A2.12 2.12 0 0 0 251.14 176.65Z" fill="#808080" fill-opacity="0.65" stroke="none"/>
<circle cx="262.38" cy="151.1" r="2.75" fill="none" stroke="#808080" stroke-width="1.45"/><path d="M262.53 151.25V148.97A2.12 2.12 0 0 0 260.25 151.25Z" fill="#808080" fill-opacity="0.65" stroke="none"/>
<circle cx="271.49" cy="124" r="2.75" fill="none" stroke="#808080" stroke-width="1.45"/><path d="M271.64 124.15V121.88A2.12 2.12 0 0 0 269.37 124.15Z" fill="#808080" fill-opacity="0.65" stroke="none"/>
<circle cx="280.6" cy="98" r="2.75" fill="none" stroke="#808080" stroke-width="1.45"/><path d="M280.75 98.15V95.88A2.12 2.12 0 0 0 278.48 98.15Z" fill="#808080" fill-opacity="0.65" stroke="none"/>
<circle cx="289.71" cy="76.7" r="2.75" fill="none" stroke="#808080" stroke-width="1.45"/><path d="M289.86 76.85V74.58A2.12 2.12 0 0 0 287.58 76.85Z" fill="#808080" fill-opacity="0.65" stroke="none"/>
<circle cx="298.82" cy="85" r="2.75" fill="none" stroke="#808080" stroke-width="1.45"/><path d="M298.97 85.15V82.88A2.12 2.12 0 0 0 296.69 85.15Z" fill="#808080" fill-opacity="0.65" stroke="none"/>
<circle cx="307.93" cy="112.2" r="2.75" fill="none" stroke="#808080" stroke-width="1.45"/><path d="M308.08 112.35V110.08A2.12 2.12 0 0 0 305.81 112.35Z" fill="#808080" fill-opacity="0.65" stroke="none"/>
<circle cx="317.04" cy="164" r="2.75" fill="none" stroke="#808080" stroke-width="1.45"/><path d="M317.19 164.15V161.88A2.12 2.12 0 0 0 314.91 164.15Z" fill="#808080" fill-opacity="0.65" stroke="none"/>
<circle cx="326.15" cy="201.1" r="2.75" fill="none" stroke="#808080" stroke-width="1.45"/><path d="M326.3 201.25V198.97A2.12 2.12 0 0 0 324.02 201.25Z" fill="#808080" fill-opacity="0.65" stroke="none"/>
<circle cx="335.26" cy="224.6" r="2.75" fill="none" stroke="#808080" stroke-width="1.45"/><path d="M335.41 224.75V222.47A2.12 2.12 0 0 0 333.13 224.75Z" fill="#808080" fill-opacity="0.65" stroke="none"/>
<circle cx="344.37" cy="231" r="2.75" fill="none" stroke="#808080" stroke-width="1.45"/><path d="M344.52 231.15V228.88A2.12 2.12 0 0 0 342.25 231.15Z" fill="#808080" fill-opacity="0.65" stroke="none"/>
<circle cx="353.48" cy="231.3" r="2.75" fill="none" stroke="#808080" stroke-width="1.45"/><path d="M353.63 231.45V229.18A2.12 2.12 0 0 0 351.36 231.45Z" fill="#808080" fill-opacity="0.65" stroke="none"/>
<circle cx="362.59" cy="231.3" r="2.75" fill="none" stroke="#808080" stroke-width="1.45"/><path d="M362.74 231.45V229.18A2.12 2.12 0 0 0 360.46 231.45Z" fill="#808080" fill-opacity="0.65" stroke="none"/>
<circle cx="371.7" cy="231" r="2.75" fill="none" stroke="#808080" stroke-width="1.45"/><path d="M371.85 231.15V228.88A2.12 2.12 0 0 0 369.57 231.15Z" fill="#808080" fill-opacity="0.65" stroke="none"/>
</g>
<g>
<path d="M134.2 143.8H166" fill="none" stroke="#ff4500" stroke-width="0.85" stroke-dasharray="3 2.4"/>
<polygon points="147.3,145.3 153.1,145.3 150.2,140.4" fill="none" stroke="#ff4500" stroke-width="1.0"/>
<polyline points="64.4,237 74,236.97 83.6,236.91 93.2,236.8 102.8,236.65 112.4,236.44 122,236.17 131.6,235.83 141.2,235.42 150.8,234.94 160.4,234.38 170,233.73 179.6,233 189.2,232 198.8,231 208.4,228.8 218,227.6 227.6,224.4 237.2,220.8 246.8,214.2 256.4,205.3 266,191.2 275.6,175.3 285.2,145.1 294.8,105.6 304.4,71.9 314,50.1 323.6,65.8 333.2,101.5 342.8,154.3 352.4,201.4 362,224.6 371.6,231.5 381.2,232 390.8,232" fill="none" stroke="#ff4500" stroke-width="0.85" stroke-linejoin="round" stroke-dasharray="3 2.4"/>
<polygon points="61.5,238.5 67.3,238.5 64.4,233.6" fill="none" stroke="#ff4500" stroke-width="1.0"/>
<polygon points="71.1,238.47 76.9,238.47 74,233.57" fill="none" stroke="#ff4500" stroke-width="1.0"/>
<polygon points="80.7,238.41 86.5,238.41 83.6,233.51" fill="none" stroke="#ff4500" stroke-width="1.0"/>
<polygon points="90.3,238.3 96.1,238.3 93.2,233.4" fill="none" stroke="#ff4500" stroke-width="1.0"/>
<polygon points="99.9,238.15 105.7,238.15 102.8,233.25" fill="none" stroke="#ff4500" stroke-width="1.0"/>
<polygon points="109.5,237.94 115.3,237.94 112.4,233.04" fill="none" stroke="#ff4500" stroke-width="1.0"/>
<polygon points="119.1,237.67 124.9,237.67 122,232.77" fill="none" stroke="#ff4500" stroke-width="1.0"/>
<polygon points="128.7,237.33 134.5,237.33 131.6,232.43" fill="none" stroke="#ff4500" stroke-width="1.0"/>
<polygon points="138.3,236.92 144.1,236.92 141.2,232.02" fill="none" stroke="#ff4500" stroke-width="1.0"/>
<polygon points="147.9,236.44 153.7,236.44 150.8,231.54" fill="none" stroke="#ff4500" stroke-width="1.0"/>
<polygon points="157.5,235.88 163.3,235.88 160.4,230.98" fill="none" stroke="#ff4500" stroke-width="1.0"/>
<polygon points="167.1,235.23 172.9,235.23 170,230.33" fill="none" stroke="#ff4500" stroke-width="1.0"/>
<polygon points="176.7,234.5 182.5,234.5 179.6,229.6" fill="none" stroke="#ff4500" stroke-width="1.0"/>
<polygon points="186.3,233.5 192.1,233.5 189.2,228.6" fill="none" stroke="#ff4500" stroke-width="1.0"/>
<polygon points="195.9,232.5 201.7,232.5 198.8,227.6" fill="none" stroke="#ff4500" stroke-width="1.0"/>
<polygon points="205.5,230.3 211.3,230.3 208.4,225.4" fill="none" stroke="#ff4500" stroke-width="1.0"/>
<polygon points="215.1,229.1 220.9,229.1 218,224.2" fill="none" stroke="#ff4500" stroke-width="1.0"/>
<polygon points="224.7,225.9 230.5,225.9 227.6,221" fill="none" stroke="#ff4500" stroke-width="1.0"/>
<polygon points="234.3,222.3 240.1,222.3 237.2,217.4" fill="none" stroke="#ff4500" stroke-width="1.0"/>
<polygon points="243.9,215.7 249.7,215.7 246.8,210.8" fill="none" stroke="#ff4500" stroke-width="1.0"/>
<polygon points="253.5,206.8 259.3,206.8 256.4,201.9" fill="none" stroke="#ff4500" stroke-width="1.0"/>
<polygon points="263.1,192.7 268.9,192.7 266,187.8" fill="none" stroke="#ff4500" stroke-width="1.0"/>
<polygon points="272.7,176.8 278.5,176.8 275.6,171.9" fill="none" stroke="#ff4500" stroke-width="1.0"/>
<polygon points="282.3,146.6 288.1,146.6 285.2,141.7" fill="none" stroke="#ff4500" stroke-width="1.0"/>
<polygon points="291.9,107.1 297.7,107.1 294.8,102.2" fill="none" stroke="#ff4500" stroke-width="1.0"/>
<polygon points="301.5,73.4 307.3,73.4 304.4,68.5" fill="none" stroke="#ff4500" stroke-width="1.0"/>
<polygon points="311.1,51.6 316.9,51.6 314,46.7" fill="none" stroke="#ff4500" stroke-width="1.0"/>
<polygon points="320.7,67.3 326.5,67.3 323.6,62.4" fill="none" stroke="#ff4500" stroke-width="1.0"/>
<polygon points="330.3,103 336.1,103 333.2,98.1" fill="none" stroke="#ff4500" stroke-width="1.0"/>
<polygon points="339.9,155.8 345.7,155.8 342.8,150.9" fill="none" stroke="#ff4500" stroke-width="1.0"/>
<polygon points="349.5,202.9 355.3,202.9 352.4,198" fill="none" stroke="#ff4500" stroke-width="1.0"/>
<polygon points="359.1,226.1 364.9,226.1 362,221.2" fill="none" stroke="#ff4500" stroke-width="1.0"/>
<polygon points="368.7,233 374.5,233 371.6,228.1" fill="none" stroke="#ff4500" stroke-width="1.0"/>
<polygon points="378.3,233.5 384.1,233.5 381.2,228.6" fill="none" stroke="#ff4500" stroke-width="1.0"/>
<polygon points="387.9,233.5 393.7,233.5 390.8,228.6" fill="none" stroke="#ff4500" stroke-width="1.0"/>
</g>
<g>
<path d="M134.2 156.75H166" fill="none" stroke="#ff0000" stroke-width="0.9"/>
<path d="M146.9 156.75H153.5 M150.2 153.45V160.05" fill="none" stroke="#ff0000" stroke-width="0.9"/>
<polyline points="59.55,237 70.4,236.98 81.25,236.92 92.1,236.82 102.95,236.68 113.8,236.48 124.65,236.23 135.5,235.93 146.35,235.58 157.2,235.16 168.05,234.69 178.9,234.16 189.75,233.57 200.6,232.92 211.45,232.2 222.3,231.6 233.15,231 244,230.3 254.85,229.3 265.7,227 276.55,224.8 287.4,221.7 298.25,214.8 309.1,206.1 319.95,190.9 330.8,170.2 341.65,136 352.5,88 363.35,50 374.2,30 385.05,50 395.9,98.5 406.75,167.4 417.6,221.3 428.45,231.1 439.3,231.3" fill="none" stroke="#ff0000" stroke-width="0.9" stroke-linejoin="round"/>
<path d="M56.25 237H62.85 M59.55 233.7V240.3" fill="none" stroke="#ff0000" stroke-width="0.9"/>
<path d="M67.1 236.98H73.7 M70.4 233.68V240.28" fill="none" stroke="#ff0000" stroke-width="0.9"/>
<path d="M77.95 236.92H84.55 M81.25 233.62V240.22" fill="none" stroke="#ff0000" stroke-width="0.9"/>
<path d="M88.8 236.82H95.4 M92.1 233.52V240.12" fill="none" stroke="#ff0000" stroke-width="0.9"/>
<path d="M99.65 236.68H106.25 M102.95 233.38V239.98" fill="none" stroke="#ff0000" stroke-width="0.9"/>
<path d="M110.5 236.48H117.1 M113.8 233.18V239.78" fill="none" stroke="#ff0000" stroke-width="0.9"/>
<path d="M121.35 236.23H127.95 M124.65 232.93V239.53" fill="none" stroke="#ff0000" stroke-width="0.9"/>
<path d="M132.2 235.93H138.8 M135.5 232.63V239.23" fill="none" stroke="#ff0000" stroke-width="0.9"/>
<path d="M143.05 235.58H149.65 M146.35 232.28V238.88" fill="none" stroke="#ff0000" stroke-width="0.9"/>
<path d="M153.9 235.16H160.5 M157.2 231.86V238.46" fill="none" stroke="#ff0000" stroke-width="0.9"/>
<path d="M164.75 234.69H171.35 M168.05 231.39V237.99" fill="none" stroke="#ff0000" stroke-width="0.9"/>
<path d="M175.6 234.16H182.2 M178.9 230.86V237.46" fill="none" stroke="#ff0000" stroke-width="0.9"/>
<path d="M186.45 233.57H193.05 M189.75 230.27V236.87" fill="none" stroke="#ff0000" stroke-width="0.9"/>
<path d="M197.3 232.92H203.9 M200.6 229.62V236.22" fill="none" stroke="#ff0000" stroke-width="0.9"/>
<path d="M208.15 232.2H214.75 M211.45 228.9V235.5" fill="none" stroke="#ff0000" stroke-width="0.9"/>
<path d="M219 231.6H225.6 M222.3 228.3V234.9" fill="none" stroke="#ff0000" stroke-width="0.9"/>
<path d="M229.85 231H236.45 M233.15 227.7V234.3" fill="none" stroke="#ff0000" stroke-width="0.9"/>
<path d="M240.7 230.3H247.3 M244 227V233.6" fill="none" stroke="#ff0000" stroke-width="0.9"/>
<path d="M251.55 229.3H258.15 M254.85 226V232.6" fill="none" stroke="#ff0000" stroke-width="0.9"/>
<path d="M262.4 227H269 M265.7 223.7V230.3" fill="none" stroke="#ff0000" stroke-width="0.9"/>
<path d="M273.25 224.8H279.85 M276.55 221.5V228.1" fill="none" stroke="#ff0000" stroke-width="0.9"/>
<path d="M284.1 221.7H290.7 M287.4 218.4V225" fill="none" stroke="#ff0000" stroke-width="0.9"/>
<path d="M294.95 214.8H301.55 M298.25 211.5V218.1" fill="none" stroke="#ff0000" stroke-width="0.9"/>
<path d="M305.8 206.1H312.4 M309.1 202.8V209.4" fill="none" stroke="#ff0000" stroke-width="0.9"/>
<path d="M316.65 190.9H323.25 M319.95 187.6V194.2" fill="none" stroke="#ff0000" stroke-width="0.9"/>
<path d="M327.5 170.2H334.1 M330.8 166.9V173.5" fill="none" stroke="#ff0000" stroke-width="0.9"/>
<path d="M338.35 136H344.95 M341.65 132.7V139.3" fill="none" stroke="#ff0000" stroke-width="0.9"/>
<path d="M349.2 88H355.8 M352.5 84.7V91.3" fill="none" stroke="#ff0000" stroke-width="0.9"/>
<path d="M360.05 50H366.65 M363.35 46.7V53.3" fill="none" stroke="#ff0000" stroke-width="0.9"/>
<path d="M370.9 30H377.5 M374.2 26.7V33.3" fill="none" stroke="#ff0000" stroke-width="0.9"/>
<path d="M381.75 50H388.35 M385.05 46.7V53.3" fill="none" stroke="#ff0000" stroke-width="0.9"/>
<path d="M392.6 98.5H399.2 M395.9 95.2V101.8" fill="none" stroke="#ff0000" stroke-width="0.9"/>
<path d="M403.45 167.4H410.05 M406.75 164.1V170.7" fill="none" stroke="#ff0000" stroke-width="0.9"/>
<path d="M414.3 221.3H420.9 M417.6 218V224.6" fill="none" stroke="#ff0000" stroke-width="0.9"/>
<path d="M425.15 231.1H431.75 M428.45 227.8V234.4" fill="none" stroke="#ff0000" stroke-width="0.9"/>
<path d="M436 231.3H442.6 M439.3 228V234.6" fill="none" stroke="#ff0000" stroke-width="0.9"/>
</g>
</svg>
</body>
</html>
